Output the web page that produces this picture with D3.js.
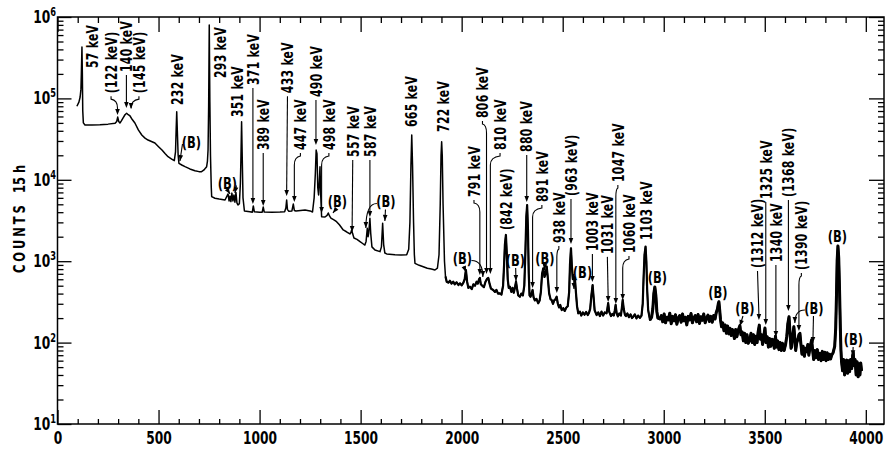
<!DOCTYPE html>
<html><head><meta charset="utf-8">
<script src="https://cdn.jsdelivr.net/npm/d3@7"></script>
<style>
body{margin:0;background:#fff;}
svg text{font-family:"DejaVu Sans",sans-serif;font-weight:bold;fill:#000;}
</style></head><body>
<svg id="chart" width="886" height="450"></svg>
<script>
// ---- DATA ----
const spectrum = [
[96,80000],[106,90000],[112,104000],[116,130000],[118,200000],[121,428000],[123,200000],[125,70000],[128,50000],
[136,47100],[170,47000],[210,47500],[250,48300],[285,49400],[293,52000],[298,59000],[303,52000],[309,49900],
[316,53000],[324,57400],[334,63000],[342,65600],[350,63000],[359,60800],[370,55000],[383,49900],[400,41000],
[417,35500],[433,32500],[448,30800],[465,29500],[482,28300],[500,25500],[517,23200],[532,21000],[547,19200],
[565,18000],[578,17200],[584,22000],[587,40000],[590,68700],[593,40000],[597,20000],[601,15900],[615,15200],
[631,14500],[655,13600],[680,12900],[700,12600],[713,12600],[725,13200],[733,14000],[738,14500],[742,17000],
[745,23200],[748,80000],[751,798000],[754,90000],[757,20000],[761,8000],[763,6200],[779,5930],[800,5800],
[829,5650],[844,6700],[849,5500],[854,6300],[858,5400],[863,6860],[868,5500],[873,6500],[878,5300],[883,7000],
[888,5200],[893,4900],[900,5100],[905,9000],[908,20000],[911,51700],[914,20000],[918,6000],[925,4140],
[952,4050],[964,4000],[969,4770],[974,4050],[1000,4000],[1013,4000],[1018,4630],[1023,4020],[1060,4000],
[1101,4020],[1124,4050],[1130,4500],[1134,5650],[1138,4300],[1145,4100],[1160,4150],[1167,5040],[1172,4200],
[1180,4140],[1225,4260],[1250,4150],[1262,4020],[1270,6000],[1276,12000],[1280,23200],[1284,21000],[1288,8000],
[1292,6500],[1296,10000],[1299,14500],[1302,7000],[1307,3520],[1324,3490],[1334,3650],[1340,3910],[1346,3600],
[1353,3390],[1370,3200],[1381,3060],[1395,2800],[1414,2420],[1430,2300],[1447,2160],[1452,2250],[1456,2430],
[1460,2200],[1467,1930],[1482,1850],[1497,1740],[1510,1650],[1521,1580],[1527,1750],[1533,2540],[1537,2000],
[1540,2200],[1546,3370],[1550,2200],[1556,1500],[1571,1370],[1596,1310],[1603,1500],[1609,2920],[1614,1600],
[1620,1260],[1629,1230],[1670,1200],[1700,1190],[1728,1200],[1738,1400],[1744,3000],[1749,15000],[1753,35500],
[1757,15000],[1762,3000],[1766,1200],[1769,942],[1790,890],[1810,856],[1830,820],[1850,800],[1868,780],
[1880,820],[1888,1200],[1894,5000],[1898,20000],[1901,29400],[1904,20000],[1908,5000],[1915,1000],[1920,650],
[1926,560],[1935,545],[1942,575],[1950,530],[1958,560],[1966,520],[1975,550],[1984,510],[1992,535],[2000,505],
[2008,540],[2015,600],[2021,780],[2027,560],[2033,470],[2041,486],[2050,455],[2058,520],[2066,500],[2074,560],
[2080,530],[2086,600],[2090,622],[2095,520],[2102,500],[2110,480],[2118,560],[2126,610],[2132,622],[2138,530],
[2145,460],[2156,443],[2165,420],[2172,445],[2180,400],[2189,403],[2197,390],[2205,500],[2210,900],[2214,1600],
[2219,2100],[2223,1300],[2228,600],[2233,470],[2239,486],[2246,420],[2252,470],[2258,410],[2264,480],[2269,560],
[2274,460],[2280,380],[2288,366],[2295,400],[2303,380],[2310,500],[2315,1200],[2320,3500],[2324,4900],[2328,2500],
[2332,700],[2336,380],[2341,366],[2346,400],[2351,443],[2356,360],[2362,330],[2370,345],[2379,304],[2386,330],
[2392,420],[2398,700],[2404,818],[2410,640],[2415,700],[2421,857],[2427,600],[2433,400],[2440,340],[2445,334],
[2452,300],[2458,330],[2464,340],[2470,366],[2476,300],[2482,270],[2488,290],[2495,251],[2503,265],[2510,245],
[2518,270],[2525,280],[2532,420],[2536,900],[2541,1440],[2545,900],[2550,600],[2556,640],[2561,588],[2566,400],
[2571,280],[2577,229],[2585,240],[2592,215],[2600,235],[2608,220],[2616,238],[2624,218],[2630,232],[2636,260],
[2642,380],[2648,510],[2653,360],[2658,250],[2668,218],[2676,235],[2684,212],[2692,240],[2700,215],[2708,235],
[2717,229],[2721,260],[2725,306],[2730,240],[2739,212],[2746,225],[2753,215],[2758,250],[2762,290],[2767,230],
[2773,210],[2780,228],[2788,215],[2793,270],[2797,334],[2802,260],[2808,220],[2813,212],[2820,228],[2828,205],
[2836,222],[2843,200],[2849,208],[2857,222],[2865,198],[2873,215],[2882,201],[2890,215],[2896,300],[2900,600],
[2905,1200],[2910,1510],[2914,1000],[2918,450],[2923,250],[2932,190],[2940,205],[2946,260],[2951,400],[2956,482],
[2961,380],[2966,240],[2971,200],
[2981,195],[2988,215],[2995,180],[3002,225],[3009,175],[3016,205],[3023,190],[3030,230],[3037,170],[3044,210],
[3051,185],[3058,220],[3065,168],[3072,200],[3079,215],[3086,178],[3093,225],[3100,185],[3107,205],[3114,165],
[3121,210],[3128,190],[3135,228],[3142,175],[3149,200],[3156,215],[3163,180],[3170,222],[3177,172],[3184,208],
[3191,188],[3198,225],[3205,175],[3212,200],[3219,218],[3226,182],[3233,210],[3240,178],[3247,215],[3254,195],
[3260,235],[3266,260],[3270,300],[3273,318],[3277,250],[3281,190],[3286,157],
[3292,175],[3298,140],[3304,165],[3310,130],[3316,160],[3322,128],[3328,150],[3334,122],[3340,145],[3344,130],
[3350,112],[3356,145],[3362,118],[3368,140],[3372,150],[3377,162],[3382,125],[3388,135],[3394,105],[3400,130],
[3406,100],[3412,125],[3418,98],[3426,108],[3432,130],[3438,100],[3444,125],[3450,95],[3456,120],[3462,100],
[3467,135],[3473,164],[3478,110],[3484,125],[3489,95],[3495,120],[3501,151],[3506,100],[3512,118],[3518,88],
[3524,112],[3530,90],[3536,110],[3542,108],[3547,85],[3553,120],[3558,88],[3564,105],[3570,82],[3576,100],
[3582,80],[3587,98],[3591,93],[3596,80],[3603,95],[3609,120],[3614,170],[3620,208],[3625,130],[3630,85],
[3633,89],[3638,120],[3644,157],[3649,110],[3653,80],[3658,99],[3664,110],[3669,125],[3674,130],[3679,95],
[3684,72],[3690,90],[3696,68],[3702,85],[3707,77],[3713,95],[3718,70],[3724,88],[3729,100],[3732,108],
[3737,80],[3742,62],[3748,80],[3754,65],[3760,82],[3766,62],[3773,74],[3779,60],[3785,78],[3791,62],
[3797,76],[3803,60],[3809,75],[3815,62],[3821,72],[3826,63],[3831,70],[3838,75],[3846,90],[3851,150],
[3855,400],[3858,1000],[3862,1540],[3866,1100],[3870,450],[3874,150],[3877,80],[3880,58],[3885,45],[3890,62],
[3895,40],[3900,58],[3905,61],[3910,42],[3915,60],[3920,44],[3925,62],[3930,48],[3935,70],[3938,75],
[3942,52],[3947,62],[3952,40],[3957,58],[3962,38],[3967,55],[3971,40],[3975,56],[3979,45]
];
const xMajorTicks = [0,500,1000,1500,2000,2500,3000,3500,4000];
const xTickLabels = ["0","500","1000","1500","2000","2500","3000","3500","4000"];
const yExponents = [1,2,3,4,5,6];
const yTitleMain = "COUNTS";
const yTitleTime = "15 h";
const peakText = ["57 keV","(122 keV)","140 keV","(145 keV)","232 keV","293 keV","351 keV","371 keV","389 keV","433 keV","447 keV","490 keV","498 keV","557 keV","587 keV","665 keV","722 keV","791 keV","806 keV","810 keV","(842 keV)","880 keV","891 keV","938 keV","(963 keV)","1003 keV","1031 keV","1047 keV","1060 keV","1103 keV","(1312 keV)","1325 keV","1340 keV","(1368 keV)","(1390 keV)"];
const peakLabelCh = [173,265,341,403,594,807,891,967,1018,1138,1202,1279,1343,1461,1546,1749,1907,2061,2103,2190,2219,2322,2397,2481,2541,2647,2721,2773,2828,2912,3464,3505,3555,3617,3681];
const peakLabelCounts = [236000,116000,211000,116000,83000,178000,59000,146000,23200,116000,23200,104000,23200,19100,19100,44500,38700,6150,57400,23200,2420,22000,5340,1670,6320,1330,1230,9400,1260,1820,825,5810,978,6150,780];
const peakArrowCh = [null,297,341,364,null,null,null,967,1018,1134,1172,1279,1307,1458,1546,null,null,2090,2123,2142,null,2322,2351,2471,2541,2647,2725,2763,2797,null,3471,3505,3555,3617,3669];
const peakArrowCounts = [null,62500,76200,74100,null,null,null,5040,4770,6320,5340,26800,3910,2280,3490,null,null,677,696,696,null,5340,469,407,1630,555,315,298,334,null,190,164,117,244,139];
const bgLabelCh = [663,841,1385,1625,2004,2266,2412,2598,2969,3268,3402,3743,3859,3938];
const bgLabelCounts = [29100,9010,5410,5410,1080,1035,1090,737,640,412,266,266,2040,111];
const bgTips = [
 [[606,17000,0]],
 [[854,6700,0],[878,6860,0]],
 [[1363,3910,0]],
 [[1526,2560,1],[1620,3120,0]],
 [[2021,737,0],[2105,640,1]],
 [[2269,571,0]],
 [[2410,780,0]],
 [[2556,455,0]],
 [],[],
 [[3377,160,0]],
 [[3649,174,1],[3738,99,0]],
 [],
 [[3936,68,0]]
];

// ---- CHART ----
const SX = 0.68; // condensed lettering
const svg = d3.select("#chart");
const x = d3.scaleLinear().domain([0,4090]).range([57.5,884]);
const y = d3.scaleLog().domain([10,1e6]).range([424,17]);
const x0=x.range()[0], x1=x.range()[1], y0=y.range()[0], y1=y.range()[1];

const xMinor = d3.range(0,4001,100).filter(v=>v%500!==0);
const yMinor = [];
yExponents.slice(0,-1).forEach(e=>{for(let k=2;k<10;k++) yMinor.push(k*Math.pow(10,e));});
const yMajor = yExponents.map(e=>Math.pow(10,e));

function styleAxis(g){g.select(".domain").remove();g.selectAll(".tick line").attr("stroke","#000").attr("stroke-width",1.3);}
const xa = svg.append("g").attr("transform",`translate(0,${y0})`).call(d3.axisBottom(x).tickValues(xMajorTicks).tickSize(-14).tickPadding(8).tickFormat((d,i)=>xTickLabels[i])).call(styleAxis);
xa.selectAll("text").attr("font-size",17).attr("font-family",null).attr("fill","#000").attr("transform",`scale(0.72,1)`);
svg.append("g").attr("transform",`translate(0,${y0})`).call(d3.axisBottom(x).tickValues(xMinor).tickSize(-5).tickFormat("")).call(styleAxis);
svg.append("g").attr("transform",`translate(0,${y1})`).call(d3.axisTop(x).tickValues(xMajorTicks).tickSize(-15).tickFormat("")).call(styleAxis);
svg.append("g").attr("transform",`translate(0,${y1})`).call(d3.axisTop(x).tickValues(xMinor).tickSize(-6).tickFormat("")).call(styleAxis);
svg.append("g").attr("transform",`translate(${x0},0)`).call(d3.axisLeft(y).tickValues(yMajor).tickSize(-14).tickFormat("")).call(styleAxis);
svg.append("g").attr("transform",`translate(${x0},0)`).call(d3.axisLeft(y).tickValues(yMinor).tickSize(-6).tickFormat("")).call(styleAxis);
svg.append("g").attr("transform",`translate(${x1},0)`).call(d3.axisRight(y).tickValues(yMajor).tickSize(-15).tickFormat("")).call(styleAxis);
svg.append("g").attr("transform",`translate(${x1},0)`).call(d3.axisRight(y).tickValues(yMinor).tickSize(-6).tickFormat("")).call(styleAxis);

yExponents.forEach(e=>{
  const t = svg.append("text").attr("transform",`translate(56,${y(Math.pow(10,e))+6}) scale(0.72,1)`).attr("text-anchor","end").attr("font-size",17);
  t.append("tspan").text("10");
  t.append("tspan").attr("dy",-7).attr("font-size",11.5).text(String(e));
});

svg.append("rect").attr("x",x0).attr("y",y1).attr("width",x1-x0).attr("height",y0-y1).attr("fill","none").attr("stroke","#000").attr("stroke-width",1.5);

svg.append("text").attr("transform",`translate(25,273) rotate(-90) scale(0.72,1)`).attr("font-size",16).attr("letter-spacing",4).text(yTitleMain);
svg.append("text").attr("transform",`translate(25,193) rotate(-90) scale(0.72,1)`).attr("font-size",16).text(yTitleTime);

const line = d3.line().x(d=>x(d[0])).y(d=>y(d[1]));
svg.append("path").datum(spectrum).attr("d",line).attr("fill","none").attr("stroke","#000").attr("stroke-width",1.5).attr("stroke-linejoin","round");
svg.append("path").datum(spectrum.filter(d=>d[0]>=1920)).attr("d",line).attr("fill","none").attr("stroke","#000").attr("stroke-width",2.2).attr("stroke-linejoin","round");
svg.append("path").datum(spectrum.filter(d=>d[0]>=2930)).attr("d",line).attr("fill","none").attr("stroke","#000").attr("stroke-width",3).attr("stroke-linejoin","round");

function arrowHead(tx,ty,fx,fy){
  const a=Math.atan2(ty-fy,tx-fx), L=6, w=2.3;
  const bx=tx-L*Math.cos(a), by=ty-L*Math.sin(a);
  const px=-Math.sin(a)*w, py=Math.cos(a)*w;
  svg.append("path").attr("d",`M${tx},${ty}L${bx+px},${by+py}L${bx-px},${by-py}Z`).attr("fill","#000");
}
const ann = svg.append("g");
peakText.forEach((t,i)=>{
  const lx=x(peakLabelCh[i]), ly=y(peakLabelCounts[i]);
  ann.append("text").attr("transform",`translate(${lx},${ly}) rotate(-90) scale(${SX},1)`).attr("dy","0.36em").attr("font-size",16).attr("letter-spacing",0.4).text(t);
  if(peakArrowCh[i]!==null){
    const ax=x(peakArrowCh[i]), ay=y(peakArrowCounts[i]);
    const p=d3.path(); const sy=ly+3;
    p.moveTo(lx,sy);
    if(Math.abs(ax-lx)>1.5){ p.lineTo(lx,sy+3); p.quadraticCurveTo(ax,sy+4,ax,sy+12); }
    p.lineTo(ax,ay-5);
    ann.append("path").attr("d",p.toString()).attr("fill","none").attr("stroke","#000").attr("stroke-width",1.1);
    arrowHead(ax,ay,ax,ay-10);
  }
});
bgLabelCh.forEach((c,i)=>{
  const lx=x(c), ly=y(bgLabelCounts[i]);
  ann.append("text").attr("transform",`translate(${lx},${ly}) scale(0.72,1)`).attr("dy","0.36em").attr("text-anchor","middle").attr("font-size",16).text("(B)");
  bgTips[i].forEach(tp=>{
    const tx=x(tp[0]), ty=y(tp[1]);
    let sx,sy;
    if(tx<lx-7){sx=lx-9;sy=ly+2;} else if(tx>lx+7){sx=lx+9;sy=ly+2;} else {sx=lx+(tx-lx)*0.4;sy=ly+8;}
    const p=d3.path(); p.moveTo(sx,sy);
    let fx=sx, fy=sy;
    if(tp[2]){ p.quadraticCurveTo(tx,sy,tx,ty); fx=tx; fy=sy; }
    else p.lineTo(tx,ty);
    ann.append("path").attr("d",p.toString()).attr("fill","none").attr("stroke","#000").attr("stroke-width",1.1);
    arrowHead(tx,ty,fx,fy);
  });
});
</script></body></html>
